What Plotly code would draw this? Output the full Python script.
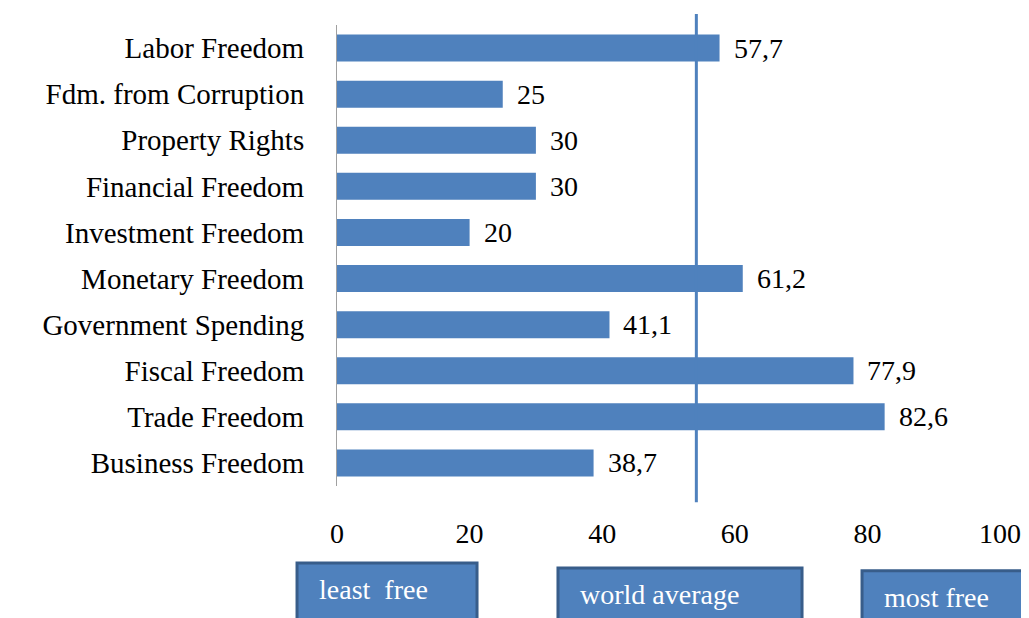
import plotly.graph_objects as go

categories = ["Labor Freedom", "Fdm. from Corruption", "Property Rights", "Financial Freedom",
              "Investment Freedom", "Monetary Freedom", "Government Spending", "Fiscal Freedom",
              "Trade Freedom", "Business Freedom"]
values = [57.7, 25, 30, 30, 20, 61.2, 41.1, 77.9, 82.6, 38.7]
world_average = 54.2
x_ticks = [0, 20, 40, 60, 80, 100]
box_labels = ["least\u00a0\u00a0free", "world average", "most free"]

BLUE = "#4F81BD"
DARK = "#385D8A"
FONT = "Liberation Serif, Times New Roman, serif"

def fmt(v):
    s = ("%g" % v)
    return s.replace(".", ",")

fig = go.Figure()
fig.add_trace(go.Bar(
    x=values, y=categories, orientation="h",
    marker=dict(color=BLUE, line=dict(width=0)),
    hoverinfo="skip",
))

annotations = []
for c, v in zip(categories, values):
    annotations.append(dict(x=v, y=c, xref="x", yref="y", text=fmt(v),
                            showarrow=False, xanchor="left", xshift=12,
                            font=dict(family=FONT, size=28, color="black")))

# bottom label boxes (paper coords)
boxes = [(-0.0603, 0.2112, -0.167), (0.3333, 0.7014, -0.178), (0.7919, 1.10, -0.184)]
shapes = []
for (x0, x1, ytop), lab in zip(boxes, box_labels):
    shapes.append(dict(type="rect", xref="paper", yref="paper", x0=x0, x1=x1,
                       y0=-0.35, y1=ytop, fillcolor=BLUE,
                       line=dict(color=DARK, width=3), layer="above"))
    annotations.append(dict(x=x0 + 0.03, y=ytop - 0.058, xref="paper", yref="paper",
                            text=lab, showarrow=False, xanchor="left", yanchor="middle",
                            font=dict(family=FONT, size=28, color="white")))

shapes.append(dict(type="line", xref="x", yref="paper", x0=world_average, x1=world_average,
                   y0=-0.035, y1=1.024, line=dict(color=BLUE, width=3), layer="above"))

fig.update_layout(
    width=1021, height=610,
    margin=dict(l=329, r=29, t=17, b=132, autoexpand=False),
    paper_bgcolor="white", plot_bgcolor="white",
    showlegend=False, bargap=0.415,
    shapes=shapes, annotations=annotations,
    font=dict(family=FONT, size=28, color="black"),
)
fig.update_xaxes(range=[0, 100], tickvals=x_ticks, showgrid=False, zeroline=False,
                 showline=False, ticks="", ticklabelstandoff=28, automargin=False,
                 tickfont=dict(family=FONT, size=28, color="black"))
fig.update_yaxes(autorange="reversed", showgrid=False, zeroline=False, showline=True,
                 linecolor="#A0A0A0", linewidth=1, ticks="", ticklabelstandoff=26,
                 automargin=False,
                 tickfont=dict(family=FONT, size=29, color="black"))

fig.write_html("out.html")
